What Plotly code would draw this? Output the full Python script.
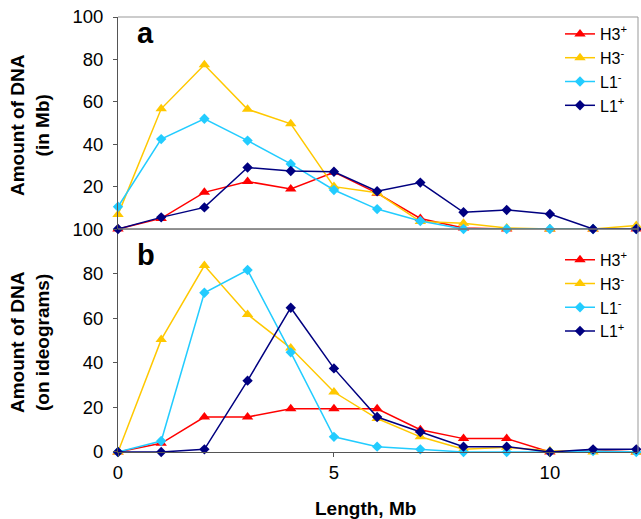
import plotly.graph_objects as go

x_len = list(range(13))

# Panel a: Amount of DNA (in Mb)
a_h3_plus = [0, 5, 17.3, 22.4, 18.9, 26.8, 16.9, 5, 0.5, 0, 0, 0, 0]
a_h3_minus = [6.8, 56.7, 77.5, 56.5, 49.6, 20, 17.1, 3.5, 2.7, 0.5, 0, 0, 1.7]
a_l1_minus = [10.5, 42.4, 52, 41.7, 30.7, 18.4, 9.4, 3.8, 0, 0, 0, 0, 0]
a_l1_plus = [0, 5.5, 10.2, 29, 27.4, 27, 17.8, 21.9, 7.9, 9, 7.1, 0, 0]

# Panel b: Amount of DNA (on ideograms)
b_h3_plus = [0, 3.9, 15.7, 15.7, 19.4, 19.4, 19.4, 10, 6, 6, 0, 0.8, 0]
b_h3_minus = [0, 50.4, 83.6, 61.7, 46.6, 26.9, 15, 6.8, 1.2, 2.1, 0.6, 0, 0]
b_l1_minus = [0, 4.9, 71.4, 81.6, 44.7, 6.8, 2.4, 1.2, 0, 0, 0, 0.4, 0]
b_l1_plus = [0, 0, 1.2, 32, 64.7, 37.5, 15.7, 9, 2.4, 2.4, 0, 1.2, 1.2]

names = ["H3<sup>+</sup>", "H3<sup>-</sup>", "L1<sup>-</sup>", "L1<sup>+</sup>"]
colors = ["#FF0000", "#FFC800", "#22CCFF", "#000080"]
symbols = ["triangle-up", "triangle-up", "diamond", "diamond"]
sizes = [10, 10, 8, 8]

y_tickvals = [0, 20, 40, 60, 80, 100]
y_ticktext_a = ["", "20", "40", "60", "80", "100"]   # panel a's "0" is hidden under panel b's "100"
y_ticktext_b = ["0", "20", "40", "60", "80", "100"]

FONT = "Liberation Sans, Arial, sans-serif"

fig = go.Figure()
panels = [
    ([a_h3_plus, a_h3_minus, a_l1_minus, a_l1_plus], "x", "y2", "legend"),
    ([b_h3_plus, b_h3_minus, b_l1_minus, b_l1_plus], "x", "y", "legend2"),
]
for series, xa, ya, lg in panels:
    for vals, nm, c, s, sz in zip(series, names, colors, symbols, sizes):
        fig.add_trace(go.Scatter(
            x=x_len, y=vals, name=nm, mode="lines+markers",
            line=dict(color=c, width=1.5),
            marker=dict(color=c, symbol=s, size=sz),
            xaxis=xa, yaxis=ya, legend=lg, cliponaxis=False,
        ))

split = 0.5126
axis_common = dict(showgrid=False, zeroline=False, showline=True,
                   linecolor="#555555", linewidth=1, ticks="outside",
                   ticklen=4, tickcolor="#555555",
                   tickfont=dict(family=FONT, size=18.5, color="black"))

fig.update_layout(
    width=641, height=519,
    margin=dict(l=118, r=3, t=17, b=67),
    plot_bgcolor="white", paper_bgcolor="white",
    font=dict(family=FONT, color="black"),
    xaxis=dict(range=[0, 12.04], tickvals=[0, 5, 10], anchor="y",
               **axis_common),
    yaxis=dict(range=[0, 100], tickvals=y_tickvals, ticktext=y_ticktext_b,
               domain=[0, split], anchor="x",
               ticklabelstandoff=6, **axis_common),
    yaxis2=dict(range=[0, 100], tickvals=y_tickvals, ticktext=y_ticktext_a,
                domain=[split, 1], anchor="x",
                ticklabelstandoff=6, **axis_common),
    legend=dict(x=0.85, y=1.0, xanchor="left", yanchor="top",
                bgcolor="rgba(0,0,0,0)",
                font=dict(family=FONT, size=16, color="black"),
                tracegroupgap=0),
    legend2=dict(x=0.85, y=0.481, xanchor="left", yanchor="top",
                 bgcolor="rgba(0,0,0,0)",
                 font=dict(family=FONT, size=16, color="black"),
                 tracegroupgap=0),
    showlegend=True,
)

# gray frame (top/right) for each panel
for y0, y1 in [(split, 1), (0, split)]:
    fig.add_shape(type="line", xref="paper", yref="paper", x0=0, x1=1,
                  y0=y1, y1=y1, line=dict(color="#999999", width=1))
    fig.add_shape(type="line", xref="paper", yref="paper", x0=1, x1=1,
                  y0=y0, y1=y1, line=dict(color="#999999", width=1))
# divider between panels (bottom axis of panel a)
fig.add_shape(type="line", xref="paper", yref="paper", x0=0, x1=1,
              y0=split, y1=split, line=dict(color="#555555", width=1))

ann = [
    dict(text="<b>a</b>", x=0.0538, y=0.963, size=29, angle=0),
    dict(text="<b>b</b>", x=0.0538, y=0.453, size=29, angle=0),
    dict(text="<b>Amount of DNA<br>(in Mb)</b>", x=-0.169, y=0.752, size=19, angle=-90),
    dict(text="<b>Amount of DNA<br>(on ideograms)</b>", x=-0.169, y=0.253, size=19, angle=-90),
    dict(text="<b>Length, Mb</b>", x=0.476, y=-0.131, size=19, angle=0),
]
for a in ann:
    fig.add_annotation(text=a["text"], x=a["x"], y=a["y"], xref="paper",
                       yref="paper", showarrow=False, xanchor="center",
                       yanchor="middle", textangle=a["angle"],
                       font=dict(family=FONT, size=a["size"], color="black"))

fig.write_html("out.html")
